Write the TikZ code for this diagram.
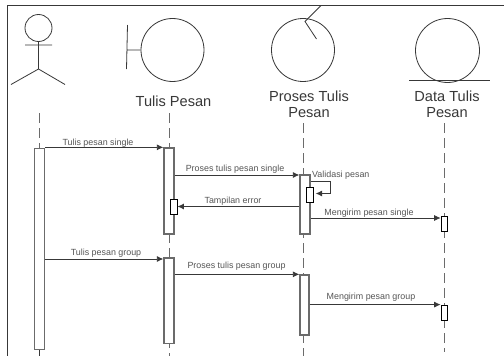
\documentclass[tikz,border=0pt]{standalone}
\usepackage{fontspec}
\setmainfont{Liberation Sans}
\definecolor{ink}{gray}{0.22}
\definecolor{bar}{gray}{0.42}
\tikzset{
  x=1pt,y=-1pt,
  icon/.style={draw=ink,line width=0.8pt},
  ball/.style={circle,draw=ink,line width=0.8pt,inner sep=0pt,minimum size=#1},
  title/.style={font=\fontsize{14.6}{16.4}\selectfont,text=ink,align=center,inner sep=0pt},
  act/.style={rectangle,draw=bar,line width=1.3pt,fill=white,inner sep=0pt,minimum width=#1},
  smallact/.style={rectangle,draw=black,line width=0.8pt,fill=white,inner sep=0pt,minimum width=6.5pt,minimum height=15pt},
  life/.style={draw=bar,line width=0.9pt,dash pattern=on 10pt off 5pt},
  msg/.style={draw=ink,line width=0.8pt,-{Latex[length=6.5pt,width=6pt]}},
  lbl/.style={font=\fontsize{8.9}{10}\selectfont,text=ink!85,inner sep=0pt}
}
\usetikzlibrary{arrows.meta}
\begin{document}
\begin{tikzpicture}
\useasboundingbox (0,0) rectangle (504,356);
\fill[white] (0,0) rectangle (504,356);
% frame
\draw[ink,line width=0.9pt] (504,5.5) -- (7.2,5.5) -- (7.2,356);
\clip (0,0) rectangle (504,356);
% actor
\node[ball=27pt] (head) at (38.5,28) {};
\coordinate (armL) at (25,45);
\coordinate (armR) at (52,45);
\coordinate (hip) at (38.5,69);
\coordinate (legL) at (11,84.5);
\coordinate (legR) at (65,84.5);
\draw[icon] (head.south) -- (hip) (armL) -- (armR) (legL) -- (hip) -- (legR);
% boundary
\node[ball=63pt] (bnd) at (172.5,50) {};
\coordinate (barT) at (127.5,25);
\coordinate (barB) at (126.5,69);
\coordinate (barM) at (127,50);
\draw[icon] (barT) -- (barB) (barM) -- (bnd.west);
\node[title] (t1) at (173.5,101) {Tulis Pesan};
% control
\node[ball=63pt] (ctl) at (303,50) {};
\coordinate (c0) at (305,21.5);
\coordinate (c1) at (321,5.5);
\coordinate (c2) at (316.5,39);
\draw[icon] (c1) -- (c0) -- (c2);
\node[title] (t2) at (309,104) {Proses Tulis\\Pesan};
% entity
\node[ball=64pt] (ent) at (447.5,50.5) {};
\coordinate (entL) at (409,80.7);
\coordinate (entR) at (489.5,80.7);
\draw[icon] (entL) -- (entR);
\node[title] (t3) at (447,104) {Data Tulis\\Pesan};
% lifeline ends
\coordinate (l0a) at (39.5,113);
\coordinate (l0b) at (39.5,148);
\coordinate (l0c) at (39.5,356);
\coordinate (l1a) at (169,113);
\coordinate (l1b) at (169,356);
\coordinate (l2a) at (303.5,123);
\coordinate (l2b) at (303.5,356);
\coordinate (l3a) at (444,123);
\coordinate (l3b) at (444,352);
\draw[life] (l0a) -- (l0b);
\draw[ink,line width=0.9pt] (39.5,350) -- (l0c);
\draw[life] (l1a) -- (l1b);
\draw[life] (l2a) -- (l2b);
\draw[life] (l3a) -- (l3b);
% activations
\node[act=10pt,minimum height=201.5pt] (A0) at (39.5,249) {};
\node[act=10pt,minimum height=86pt] (B1) at (169,191) {};
\node[act=10pt,minimum height=85.5pt] (B2) at (169,300.7) {};
\node[act=10pt,minimum height=59pt] (C1) at (305,204.5) {};
\node[act=9pt,minimum height=60pt] (C2) at (304.5,305) {};
\node[smallact] (B3) at (173.8,206.5) {};
\node[smallact] (C3) at (310,194.5) {};
\node[smallact] (D1) at (444.3,224) {};
\node[smallact] (D2) at (444.3,312.5) {};
% messages
\coordinate (m1) at (A0.east |- B1.north);
\draw[msg] (m1) -- (B1.north west);
\node[lbl] (n1) at (98,143) {Tulis pesan single};
\coordinate (m2a) at (B1.east |- 0,175);
\coordinate (m2b) at (C1.west |- 0,175);
\draw[msg] (m2a) -- (m2b);
\node[lbl] (n2) at (235,169) {Proses tulis pesan single};
\coordinate (m3) at (C1.west |- B3.east);
\draw[msg] (m3) -- (B3.east);
\node[lbl] (n3) at (233,201) {Tampilan error};
\coordinate (s0) at (C1.east |- 0,181);
\coordinate (s1) at (330,181);
\coordinate (s2) at (330,193.5);
\coordinate (s3) at (C3.east |- s2);
\draw[msg,shorten >=2pt] (s0) -- (s1) -- (s2) -- (s3);
\node[lbl,anchor=west] (n4) at (312,175.5) {Validasi pesan};
\coordinate (m5a) at (C1.east |- D1.north);
\coordinate (m5b) at (D1.north west);
\draw[msg] (m5a |- 0,218) -- (m5b |- 0,218);
\node[lbl] (n5) at (369,213) {Mengirim pesan single};
\coordinate (m6a) at (A0.east |- 0,259);
\coordinate (m6b) at (B2.west |- 0,259);
\draw[msg] (m6a) -- (m6b);
\node[lbl] (n6) at (106,253) {Tulis pesan group};
\coordinate (m7a) at (B2.east |- C2.north);
\draw[msg] (m7a) -- (C2.north west);
\node[lbl] (n7) at (236.5,266) {Proses tulis pesan group};
\coordinate (m8) at (C2.east |- D2.north);
\draw[msg] (m8) -- (D2.north west);
\node[lbl] (n8) at (371,297) {Mengirim pesan group};
\end{tikzpicture}
\end{document}
